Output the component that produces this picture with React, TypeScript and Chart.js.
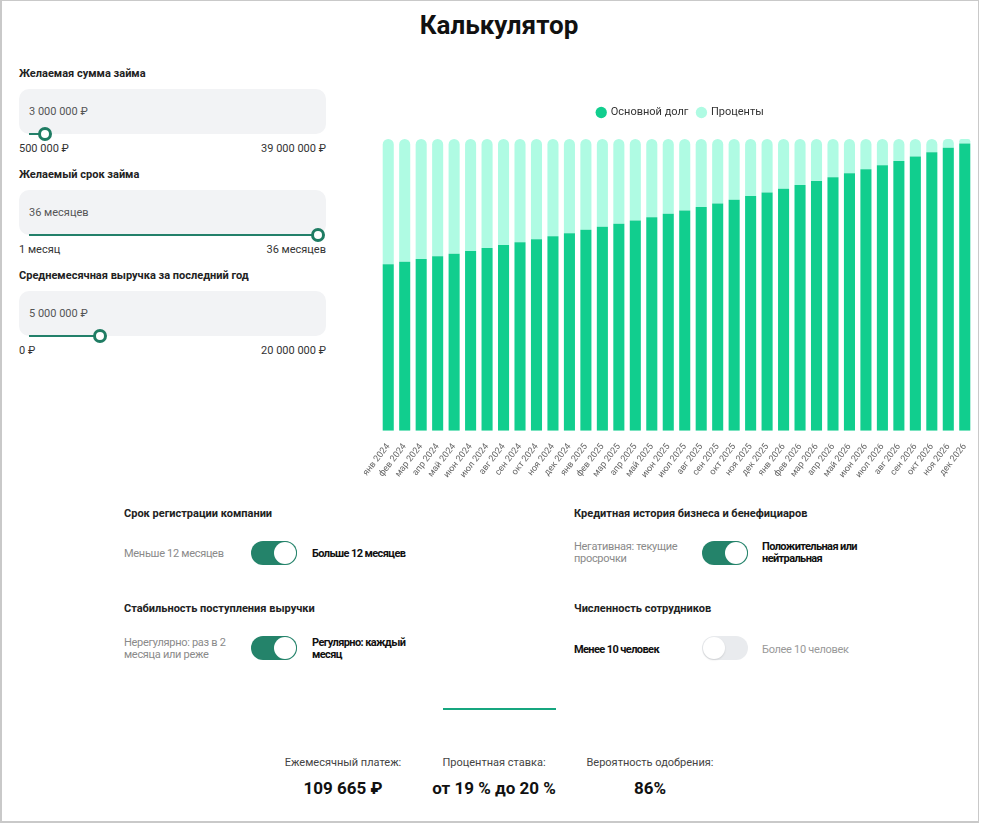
import React, { useEffect, useRef } from "react";
import { Chart, registerables } from "chart.js";

Chart.register(...registerables);

const monthLabels = [
  "янв 2024", "фев 2024", "мар 2024", "апр 2024", "май 2024", "июн 2024",
  "июл 2024", "авг 2024", "сен 2024", "окт 2024", "ноя 2024", "дек 2024",
  "янв 2025", "фев 2025", "мар 2025", "апр 2025", "май 2025", "июн 2025",
  "июл 2025", "авг 2025", "сен 2025", "окт 2025", "ноя 2025", "дек 2025",
  "янв 2026", "фев 2026", "мар 2026", "апр 2026", "май 2026", "июн 2026",
  "июл 2026", "авг 2026", "сен 2026", "окт 2026", "ноя 2026", "дек 2026",
];

const principalValues = [
  62550, 63530, 64550, 65570, 66550, 67570, 68700, 69840, 70850, 71990, 73120, 74250,
  75500, 76630, 77760, 79010, 80290, 81540, 82790, 84070, 85430, 86820, 88220, 89580,
  90980, 92370, 93880, 95240, 96750, 98260, 99770, 101430, 103060, 104680, 106340, 107960,
];

const interestValues = [
  47115, 46135, 45115, 44095, 43115, 42095, 40965, 39825, 38815, 37675, 36545, 35415,
  34165, 33035, 31905, 30655, 29375, 28125, 26875, 25595, 24235, 22845, 21445, 20085,
  18685, 17295, 15785, 14425, 12915, 11405, 9895, 8235, 6605, 4985, 3325, 1705,
];

const seriesNames = ["Основной долг", "Проценты"];

const FONT = "Roboto, 'Noto Sans', Arial, sans-serif";

function Txt(props: {
  x: number; y: number; children: React.ReactNode; size?: number; weight?: number;
  color?: string; center?: boolean; right?: boolean; lh?: number; ls?: number;
}) {
  const { x, y, children, size = 11, weight = 400, color = "#222", center, right, lh, ls } = props;
  const tx = center ? "-50%" : right ? "-100%" : "0";
  return (
    <div
      style={{
        position: "absolute",
        left: x,
        top: y,
        transform: `translate(${tx}, -50%)`,
        fontSize: size,
        fontWeight: weight,
        color,
        whiteSpace: "nowrap",
        lineHeight: lh ? `${lh}px` : "normal",
        letterSpacing: ls ? `${ls}px` : "normal",
        fontFamily: FONT,
        textAlign: center ? "center" : "left",
      }}
    >
      {children}
    </div>
  );
}

function Toggle({ x, y, on }: { x: number; y: number; on: boolean }) {
  return (
    <div
      style={{
        position: "absolute",
        left: x,
        top: y,
        width: 46,
        height: 24,
        borderRadius: 12,
        background: on ? "#24836a" : "#e9ebee",
      }}
    >
      <div
        style={{
          position: "absolute",
          top: 1,
          left: on ? 23 : 1,
          width: 22,
          height: 22,
          borderRadius: 11,
          background: "#fff",
          boxShadow: on ? "0 0 0 1px rgba(36,131,106,0.6)" : "0 1px 2px rgba(0,0,0,0.12)",
        }}
      />
    </div>
  );
}

function InputBox({ y, value, trackEnd }: { y: number; value: string; trackEnd: number }) {
  return (
    <>
      <div
        style={{
          position: "absolute",
          left: 19,
          top: y,
          width: 307,
          height: 45,
          borderRadius: 10,
          background: "#f2f3f5",
        }}
      />
      <Txt x={29} y={y + 22} color="#555">{value}</Txt>
      <div
        style={{
          position: "absolute",
          left: 29,
          top: y + 44,
          width: trackEnd - 29,
          height: 2,
          background: "#23806a",
        }}
      />
      <div
        style={{
          position: "absolute",
          left: trackEnd - 7,
          top: y + 45 - 7,
          width: 8,
          height: 8,
          borderRadius: 7,
          border: "3px solid #1f7c63",
          background: "#fff",
        }}
      />
    </>
  );
}

function BarChart() {
  const ref = useRef<HTMLCanvasElement | null>(null);
  useEffect(() => {
    if (!ref.current) return;
    const stackMax = Math.max(...principalValues.map((p, i) => p + interestValues[i]));
    const legendTweak = {
      id: "legendTweak",
      beforeInit(chart: any) {
        const orig = chart.legend.fit;
        chart.legend.fit = function () {
          orig.bind(chart.legend)();
          this.height += 11;
        };
      },
      afterLayout(chart: any) {
        chart.legend.left += 4;
        chart.legend.right += 4;
      },
    };
    const chart = new Chart(ref.current, {
      type: "bar",
      data: {
        labels: monthLabels,
        datasets: [
          {
            label: seriesNames[0],
            data: principalValues,
            backgroundColor: "#11ce8e",
            borderWidth: 0,
            borderRadius: 0,
            barPercentage: 0.84,
            categoryPercentage: 0.8,
          },
          {
            label: seriesNames[1],
            data: interestValues,
            backgroundColor: "#affbe3",
            borderWidth: 0,
            borderRadius: { topLeft: 6, topRight: 6, bottomLeft: 0, bottomRight: 0 },
            borderSkipped: false,
            barPercentage: 0.84,
            categoryPercentage: 0.8,
          },
        ],
      },
      options: {
        animation: false,
        responsive: true,
        maintainAspectRatio: false,
        layout: { padding: { left: 20, right: 27, top: 0, bottom: 0 } },
        plugins: {
          legend: {
            position: "top",
            labels: {
              usePointStyle: true,
              pointStyle: "circle",
              boxWidth: 8,
              boxHeight: 8,
              padding: 9,
              color: "#333",
              font: { family: FONT, size: 11 },
            },
          },
          tooltip: { enabled: false },
        },
        scales: {
          x: {
            stacked: true,
            grid: { display: false },
            border: { display: false },
            ticks: {
              color: "#666",
              font: { family: FONT, size: 9 },
              autoSkip: false,
              maxRotation: 52,
              minRotation: 52,
              padding: 3,
            },
          },
          y: {
            stacked: true,
            display: false,
            min: 0,
            max: stackMax,
          },
        },
      },
      plugins: [legendTweak],
    });
    return () => chart.destroy();
  }, []);
  return (
    <div style={{ position: "absolute", left: 360, top: 98, width: 640, height: 385 }}>
      <canvas ref={ref} />
    </div>
  );
}

export default function App() {
  return (
    <div
      style={{
        position: "absolute",
        left: 0,
        top: 0,
        width: 981,
        height: 825,
        overflow: "hidden",
        background: "#fff",
        fontFamily: FONT,
      }}
    >
      <div
        style={{
          position: "absolute",
          left: 0,
          top: 0,
          width: 979,
          height: 823,
          border: "1px solid #c9c9c9",
          borderLeftWidth: 2,
          borderBottomWidth: 2,
          boxSizing: "border-box",
        }}
      />
      <Txt x={499} y={25} size={26} weight={700} color="#111" center>Калькулятор</Txt>

      <Txt x={19} y={73} weight={700}>Желаемая сумма займа</Txt>
      <InputBox y={89} value="3 000 000 ₽" trackEnd={45} />
      <Txt x={19} y={148} color="#333">500 000 ₽</Txt>
      <Txt x={326} y={148} color="#333" right>39 000 000 ₽</Txt>

      <Txt x={19} y={174} weight={700}>Желаемый срок займа</Txt>
      <InputBox y={190} value="36 месяцев" trackEnd={318} />
      <Txt x={19} y={249} color="#333">1 месяц</Txt>
      <Txt x={326} y={249} color="#333" right>36 месяцев</Txt>

      <Txt x={19} y={275} weight={700}>Среднемесячная выручка за последний год</Txt>
      <InputBox y={291} value="5 000 000 ₽" trackEnd={100} />
      <Txt x={19} y={350} color="#333">0 ₽</Txt>
      <Txt x={326} y={350} color="#333" right>20 000 000 ₽</Txt>

      <BarChart />

      <Txt x={124} y={513} weight={700}>Срок регистрации компании</Txt>
      <Txt x={124} y={553} color="#8a8a8a" ls={-0.3}>Меньше 12 месяцев</Txt>
      <Toggle x={251} y={541} on />
      <Txt x={312} y={553} weight={700} color="#111" ls={-0.6}>Больше 12 месяцев</Txt>

      <Txt x={124} y={608} weight={700}>Стабильность поступления выручки</Txt>
      <Txt x={124} y={649} color="#8a8a8a" lh={12} ls={-0.3}>Нерегулярно: раз в 2<br />месяца или реже</Txt>
      <Toggle x={251} y={636} on />
      <Txt x={312} y={649} weight={700} color="#111" lh={12} ls={-0.6}>Регулярно: каждый<br />месяц</Txt>

      <Txt x={574} y={513} weight={700}>Кредитная история бизнеса и бенефициаров</Txt>
      <Txt x={574} y={553} color="#8a8a8a" lh={12} ls={-0.3}>Негативная: текущие<br />просрочки</Txt>
      <Toggle x={702} y={541} on />
      <Txt x={762} y={553} weight={700} color="#111" lh={12} ls={-0.6}>Положительная или<br />нейтральная</Txt>

      <Txt x={574} y={608} weight={700}>Численность сотрудников</Txt>
      <Txt x={574} y={649} weight={700} color="#111" ls={-0.6}>Менее 10 человек</Txt>
      <Toggle x={702} y={636} on={false} />
      <Txt x={762} y={649} color="#999" ls={-0.3}>Более 10 человек</Txt>

      <div style={{ position: "absolute", left: 443, top: 708, width: 113, height: 2, background: "#16a67f" }} />

      <Txt x={343} y={762} color="#444" center>Ежемесячный платеж:</Txt>
      <Txt x={343} y={788} size={17} weight={700} color="#111" center>109 665 ₽</Txt>
      <Txt x={494} y={762} color="#444" center>Процентная ставка:</Txt>
      <Txt x={494} y={788} size={17} weight={700} color="#111" center>от 19 % до 20 %</Txt>
      <Txt x={650} y={762} color="#444" center>Вероятность одобрения:</Txt>
      <Txt x={650} y={788} size={17} weight={700} color="#111" center>86%</Txt>
    </div>
  );
}
